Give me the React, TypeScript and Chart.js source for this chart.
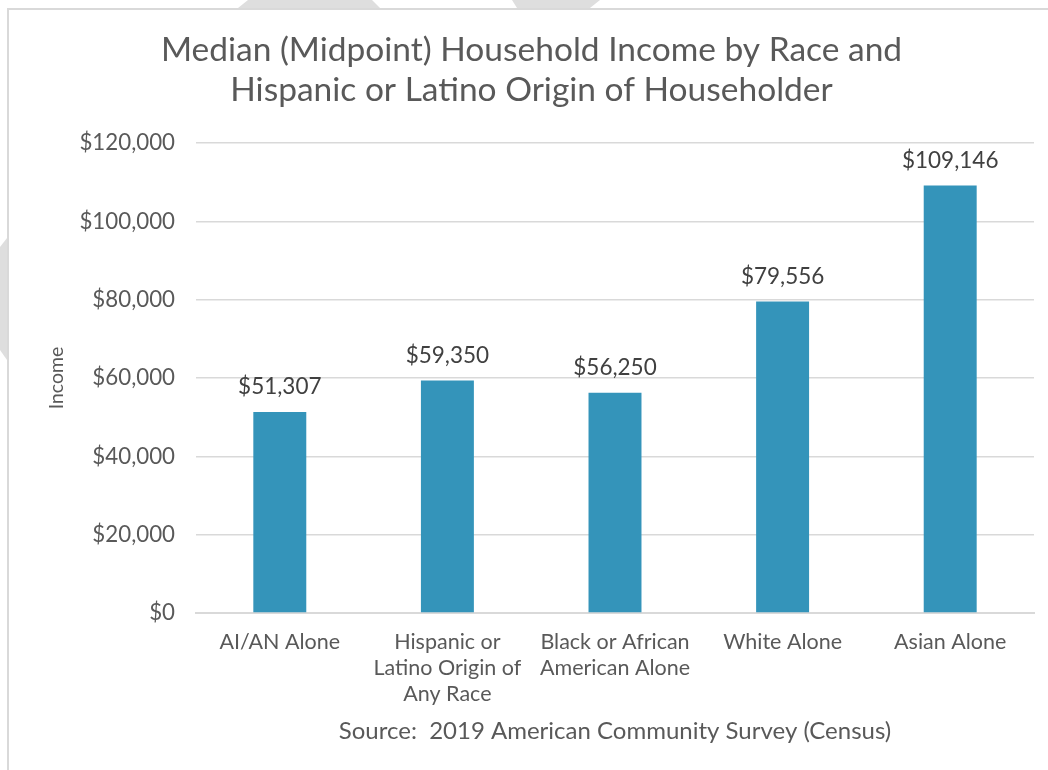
import React, { useEffect, useRef } from "react";
import { Chart, registerables } from "chart.js";

Chart.register(...registerables);

const categories: (string | string[])[] = [
  "AI/AN Alone",
  ["Hispanic or", "Latino Origin of", "Any Race"],
  ["Black or African", "American Alone"],
  "White Alone",
  "Asian Alone",
];
const incomeValues: number[] = [51307, 59350, 56250, 79556, 109146];
const yTickMax = 120000;
const yTickStep = 20000;
const titleLines: string[] = [
  "Median (Midpoint) Household Income by Race and",
  "Hispanic or Latino Origin of Householder",
];
const yAxisTitle = "Income";
const xAxisTitle = "Source:  2019 American Community Survey (Census)";

const FONT = "Lato, 'Open Sans', sans-serif";
const TEXT = "#595959";

const fmt = (v: number) => "$" + v.toLocaleString("en-US");

const dataLabelPlugin = {
  id: "dataLabels",
  afterDatasetsDraw(chart: any) {
    const ctx = chart.ctx;
    const meta = chart.getDatasetMeta(0);
    ctx.save();
    ctx.font = `22.5px ${FONT}`;
    ctx.fillStyle = "#404040";
    ctx.textAlign = "center";
    ctx.textBaseline = "middle";
    meta.data.forEach((el: any, i: number) => {
      const v = chart.data.datasets[0].data[i] as number;
      ctx.fillText(fmt(v), el.x, el.y - 25);
    });
    ctx.restore();
  },
};

export default function App() {
  const ref = useRef<HTMLCanvasElement | null>(null);
  useEffect(() => {
    if (!ref.current) return;
    const chart = new Chart(ref.current, {
      type: "bar",
      data: {
        labels: categories,
        datasets: [
          {
            data: incomeValues,
            backgroundColor: "#3494BA",
            borderWidth: 0,
            barPercentage: 0.316,
            categoryPercentage: 1,
          },
        ],
      },
      options: {
        responsive: false,
        animation: false,
        layout: { padding: { top: 0, left: 20, right: 14, bottom: 0 } },
        plugins: {
          legend: { display: false },
          tooltip: { enabled: false },
          title: {
            display: true,
            text: titleLines,
            color: TEXT,
            font: { family: FONT, size: 33.5, weight: "normal", lineHeight: 40 / 33.5 },
            padding: { top: 20, bottom: 33 },
          },
        },
        scales: {
          x: {
            grid: { display: false, drawTicks: false },
            border: { display: true, color: "#d9d9d9", width: 2 },
            ticks: {
              color: TEXT,
              padding: 16,
              font: { family: FONT, size: 21.5, lineHeight: 26 / 21.5 },
              maxRotation: 0,
              autoSkip: false,
            },
            title: {
              display: true,
              text: xAxisTitle,
              color: TEXT,
              font: { family: FONT, size: 24, lineHeight: 1.1 },
              padding: { top: 4, bottom: 26 },
            },
            afterFit: (scale: any) => {
              scale.height = 157;
            },
          },
          y: {
            min: 0,
            max: yTickMax,
            grid: { color: "#d9d9d9", lineWidth: 1.5, drawTicks: false },
            border: { display: false },
            ticks: {
              stepSize: yTickStep,
              color: TEXT,
              padding: 21,
              font: { family: FONT, size: 22.3 },
              callback: (v: any) => fmt(Number(v)),
            },
            title: {
              display: true,
              text: yAxisTitle,
              color: TEXT,
              font: { family: FONT, size: 19.5, lineHeight: 1.2 },
              padding: { top: 16, bottom: 4 },
            },
            afterFit: (scale: any) => {
              scale.width = 167;
            },
          },
        },
      },
      plugins: [dataLabelPlugin],
    });
    return () => chart.destroy();
  }, []);

  const deco = "#dedede";
  return (
    <div
      style={{
        position: "absolute",
        left: 0,
        top: 0,
        width: 1048,
        height: 770,
        overflow: "hidden",
        background: "#fff",
      }}
    >
      <div
        style={{
          position: "absolute",
          left: 0,
          top: 0,
          width: 1048,
          height: 10,
          background: deco,
          clipPath: "polygon(248px 0, 372px 0, 380px 8px, 238px 8px)",
        }}
      />
      <div
        style={{
          position: "absolute",
          left: 0,
          top: 0,
          width: 1048,
          height: 10,
          background: deco,
          clipPath: "polygon(512px 0, 600px 0, 590px 8px, 517px 8px)",
        }}
      />
      <div
        style={{
          position: "absolute",
          left: 0,
          top: 0,
          width: 10,
          height: 770,
          background: deco,
          clipPath: "polygon(0 247px, 7px 238px, 7px 360px, 0 350px)",
        }}
      />
      <div
        style={{
          position: "absolute",
          left: 7,
          top: 8,
          width: 1041,
          height: 762,
          borderLeft: "2px solid #d9d9d9",
          borderTop: "2px solid #d9d9d9",
          background: "#fff",
        }}
      >
        <canvas
          ref={ref}
          width={1039}
          height={760}
          style={{ display: "block", width: 1039, height: 760 }}
        />
      </div>
    </div>
  );
}
